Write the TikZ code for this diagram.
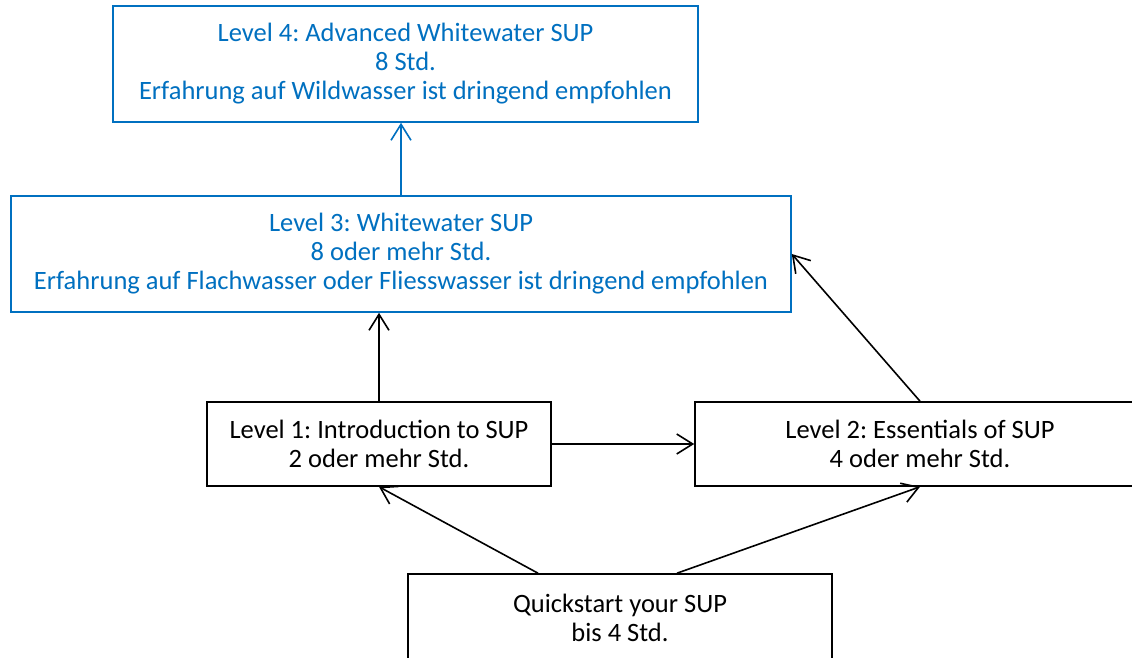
\documentclass[tikz,border=0pt]{standalone}
\usepackage{fontspec}
\setmainfont{Carlito}
\usepackage{xcolor}
\usepackage{tikz}
\usetikzlibrary{arrows.meta}
\definecolor{supblue}{HTML}{0070C0}
\frenchspacing

\begin{document}
\begin{tikzpicture}[x=1pt,y=1pt,
    level/.style={draw,line width=1.6pt,inner sep=0pt,align=center,
      font=\fontsize{26.5}{29}\selectfont},
    bluelevel/.style={level,draw=supblue,text=supblue},
    arr/.style={line width=1.6pt,-{Straight Barb[length=16pt,width=20pt,line width=1.6pt]}}]
    \clip (0,0) rectangle (1132,657);
    \fill[white] (0,0) rectangle (1132,657);
    %
    \node[bluelevel,minimum width=585pt,minimum height=116pt] (lvlfour) at (405.5,593)
      {Level 4: Advanced Whitewater SUP\\8 Std.\\Erfahrung auf Wildwasser ist dringend empfohlen};
    \node[bluelevel,minimum width=780pt,minimum height=116pt] (lvlthree) at (401,403)
      {Level 3: Whitewater SUP\\8 oder mehr Std.\\Erfahrung auf Flachwasser oder Fliesswasser ist dringend empfohlen};
    \node[level,minimum width=344pt,minimum height=84pt] (lvlone) at (379,213)
      {Level 1: Introduction to SUP\\2 oder mehr Std.};
    \node[level,minimum width=450pt,minimum height=84pt] (lvltwo) at (920,213)
      {Level 2: Essentials of SUP\\4 oder mehr Std.};
    \node[level,minimum width=424pt,minimum height=88pt] (quick) at (620,39)
      {Quickstart your SUP\\bis 4 Std.};
    %
    \draw[arr,supblue] (lvlthree.north) -- (lvlthree.north |- lvlfour.south);
    \draw[arr] (lvlone.north) -- (lvlone.north |- lvlthree.south);
    \draw[arr] (lvlone.east) -- (lvltwo.west);
    \draw[arr] (lvltwo.north) -- (lvlthree.east);
    \draw[arr] ([xshift=-82pt]quick.north) -- (lvlone.south);
    \draw[arr] ([xshift=57pt]quick.north) -- (lvltwo.south);
\end{tikzpicture}
\end{document}
